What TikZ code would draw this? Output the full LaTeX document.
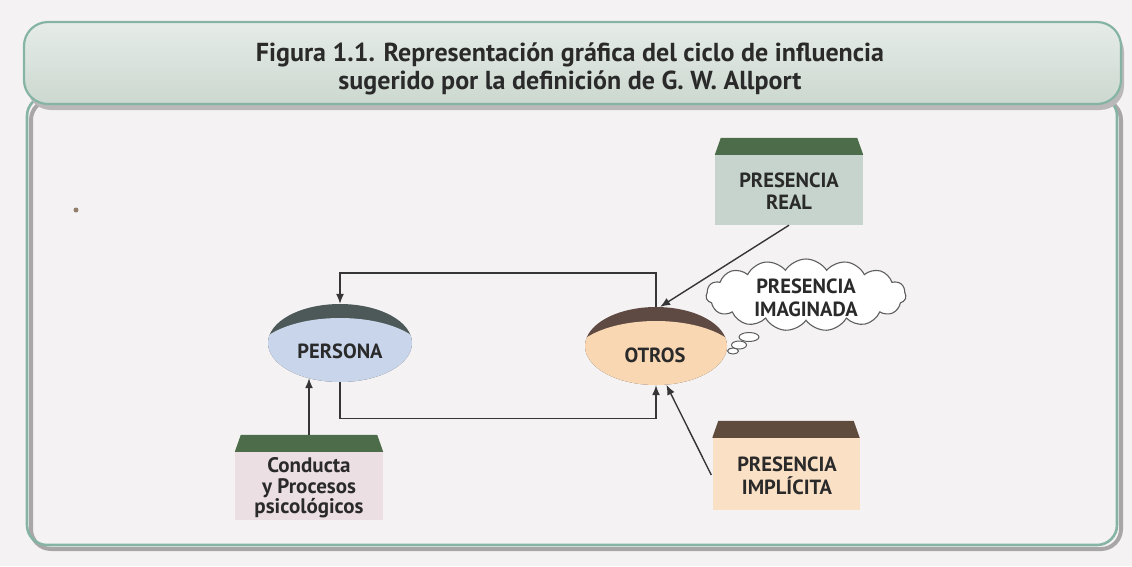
\documentclass[tikz,border=0pt]{standalone}
\usepackage{fontspec}
\setmainfont{PT Sans}
\usetikzlibrary{shapes.geometric,shapes.symbols,arrows.meta,calc}
\definecolor{pagebg}{HTML}{F4F2F2}
\definecolor{framegreen}{HTML}{86B4A4}
\definecolor{frameshadow}{HTML}{A9A6A8}
\definecolor{bantop}{HTML}{E6ECE8}
\definecolor{banbot}{HTML}{CCD8D0}
\definecolor{perlight}{HTML}{C9D5EA}
\definecolor{perdark}{HTML}{4C5958}
\definecolor{otrlight}{HTML}{F9D7B3}
\definecolor{otrdark}{HTML}{5E4A42}
\definecolor{realbody}{HTML}{C6D4CD}
\definecolor{greenroof}{HTML}{4D6D4A}
\definecolor{condbody}{HTML}{EBDFE3}
\definecolor{impbody}{HTML}{FAE0C5}
\definecolor{brownroof}{HTML}{5F4C3C}
\definecolor{ink}{HTML}{2A2A2A}
\definecolor{linec}{HTML}{363636}
\tikzset{
  arr/.style={draw=linec, line width=1.4pt, -{Latex[length=10pt,width=8pt]}},
  lbl/.style={font=\bfseries\fontsize{20.5}{22.5}\selectfont, text=ink, align=center, inner sep=0pt},
  disc/.style={ellipse, minimum width=144pt, minimum height=78pt, inner sep=0pt},
  housebody/.style={rectangle, minimum width=148pt, inner sep=0pt},
}
\newcommand{\myroof}[2]{\fill[#2] (#1.north west) -- ($(#1.north west)+(6,-17)$) -- ($(#1.north east)+(-6,-17)$) -- (#1.north east) -- cycle;}
\begin{document}
\begin{tikzpicture}[x=1pt,y=-1pt]
\useasboundingbox (0,0) rectangle (1132,566);
\fill[pagebg] (0,0) rectangle (1132,566);
% frame
\draw[frameshadow, line width=4pt, rounded corners=20pt] (31,100) rectangle (1121,549);
\draw[framegreen, line width=2.6pt, rounded corners=20pt] (27,96) rectangle (1117,545);
% banner
\fill[frameshadow!80, rounded corners=24pt] (27,28) rectangle (1124,110);
\shade[top color=bantop, bottom color=banbot, draw=framegreen, line width=2.2pt, rounded corners=24pt] (24,22) rectangle (1121,104);
\node[font=\bfseries\fontsize{26}{28}\selectfont, text=ink, align=center] (title) at (570,69)
  {Figura 1.1. Representación gráfica del ciclo de influencia\\sugerido por la definición de G. W. Allport};
% dot
\fill[gray!70!brown] (76,210) circle (2.5);
% discs
\node[disc, fill=perdark, path picture={\fill[perlight] ([yshift=-14pt]path picture bounding box.center) ellipse (86pt and 39pt);}] (persona) at (340,343) {};
\node[lbl] (personalbl) at (340,351) {PERSONA};
\node[disc, minimum width=142pt, fill=otrdark, path picture={\fill[otrlight] ([yshift=-14pt]path picture bounding box.center) ellipse (85pt and 39pt);}] (otros) at (656,346) {};
\node[lbl] (otroslbl) at (655,355) {OTROS};
% houses
\node[housebody, minimum height=70pt, fill=realbody] (real) at (789,190) {};
\myroof{real}{greenroof}
\node[lbl] (reallbl) at (789,191) {PRESENCIA\\REAL};
\node[housebody, minimum height=68pt, fill=condbody] (cond) at (309,486) {};
\myroof{cond}{greenroof}
\node[lbl, font=\bfseries\fontsize{21}{20.5}\selectfont] (condlbl) at (309,488) {Conducta\\y Procesos\\psicológicos};
\node[housebody, minimum width=147pt, minimum height=72pt, fill=impbody] (imp) at (786,474) {};
\myroof{imp}{brownroof}
\node[lbl] (implbl) at (787,476) {PRESENCIA\\IMPLÍCITA};
% cloud
\node[cloud, cloud puffs=15, cloud puff arc=115, aspect=2.7, minimum width=200pt, minimum height=72pt, fill=white, draw=linec!80, line width=1.1pt, inner sep=0pt] (cloud) at (806,295) {};
\node[lbl] (cloudlbl) at (806,298) {PRESENCIA\\IMAGINADA};
\node[ellipse, minimum width=20pt, minimum height=9pt, inner sep=0pt, fill=white, draw=linec!80, line width=1pt] (b1) at (749,337) {};
\node[ellipse, minimum width=15pt, minimum height=8pt, inner sep=0pt, fill=white, draw=linec!80, line width=1pt] (b2) at (739,345) {};
\node[ellipse, minimum width=11pt, minimum height=6pt, inner sep=0pt, fill=white, draw=linec!80, line width=1pt] (b3) at (733,351) {};
% connectors
\coordinate (condtop) at ($(cond.north)+(0,-17)$);
\coordinate (imptail) at ($(imp.west)+(-1,1)$);
\draw[arr] (otros.north) -- ++(0,-34) -| (persona.north);
\draw[arr] (persona.south) -- ++(0,36) -| (otros.south);
\draw[arr] (condtop) -- (condtop |- persona.228);
\draw[arr] (real.south) -- (otros.84);
\draw[arr] (imptail) -- (otros.285);
\end{tikzpicture}
\end{document}
